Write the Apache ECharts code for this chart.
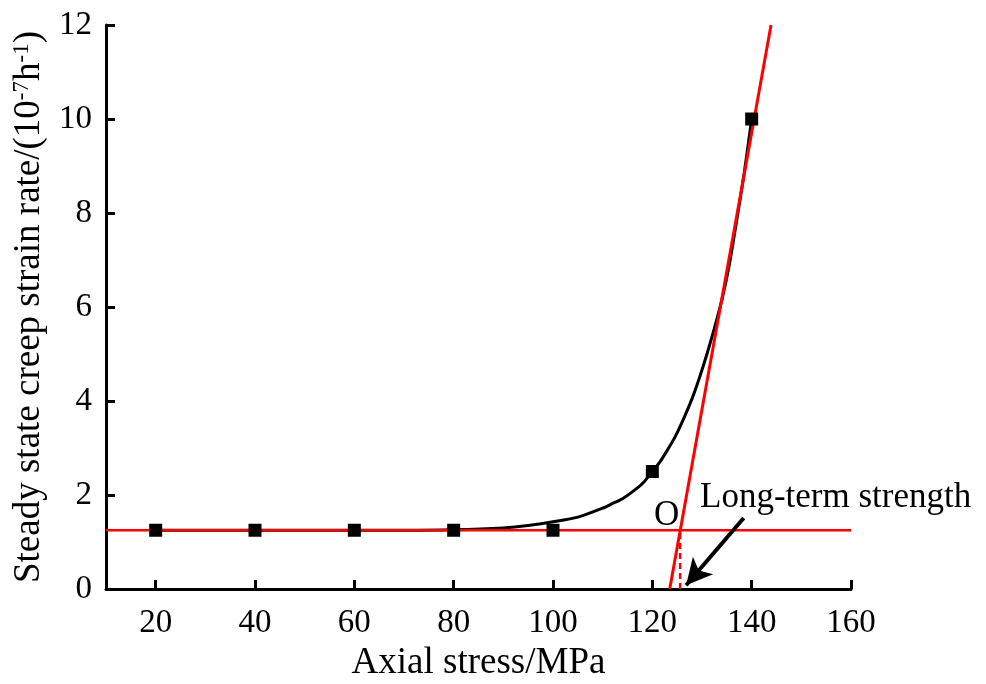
<!DOCTYPE html>
<html>
<head>
<meta charset="utf-8">
<script src="https://cdn.jsdelivr.net/npm/echarts@6/dist/echarts.min.js"></script>
<style>
  html, body { margin: 0; padding: 0; background: #fff; }
  #chart { width: 986px; height: 684px; }
</style>
</head>
<body>
<div id="chart"></div>
<script>
// measured points
const stress = [20, 40, 60, 80, 100, 120, 140];
const strainRate = [1.25, 1.25, 1.25, 1.25, 1.25, 2.5, 10];

// fitted curve
const fitX = [20, 40, 60, 70, 80, 90, 95, 100, 105, 110, 112, 114, 117, 118.5, 120, 121.5, 123, 124.5, 126, 128, 129.5, 131, 132.5, 134, 135.5, 137, 138.5, 140];
const fitY = [1.25, 1.25, 1.25, 1.25, 1.26, 1.3, 1.35, 1.43, 1.53, 1.72, 1.82, 1.92, 2.15, 2.3, 2.5, 2.7, 2.95, 3.22, 3.55, 4.05, 4.5, 5.0, 5.55, 6.15, 6.9, 7.85, 8.85, 10];

// red guide lines
const flatX = [10, 160];
const flatY = [1.25, 1.25];
const steepX = [123.5, 143.9];
const steepY = [0, 12];
const strengthX = 125.6;

const xTicks = [20, 40, 60, 80, 100, 120, 140, 160];

const font = "Liberation Serif";
const chart = echarts.init(document.getElementById("chart"));

chart.setOption({
  animation: false,
  grid: { left: 106, right: 135, top: 25, bottom: 95, outerBoundsMode: "none", containLabel: false },
  xAxis: {
    type: "value",
    min: 10,
    max: 160,
    name: "Axial stress/MPa",
    nameLocation: "middle",
    nameGap: 38,
    nameTextStyle: { fontFamily: font, fontSize: 37, color: "#000" },
    axisLine: { lineStyle: { color: "#000", width: 3 } },
    axisTick: { inside: true, length: 9, lineStyle: { color: "#000", width: 3 }, customValues: xTicks },
    axisLabel: { fontFamily: font, fontSize: 33, color: "#000", margin: 18, customValues: xTicks },
    splitLine: { show: false },
  },
  yAxis: {
    type: "value",
    min: 0,
    max: 12,
    interval: 2,
    name: "{n|Steady state creep strain rate/(10}{s|-7}{n|h}{s|-1}{n|)}",
    nameLocation: "middle",
    nameGap: 50,
    nameRotate: 90,
    nameTextStyle: {
      rich: {
        n: { fontFamily: font, fontSize: 37, color: "#000" },
        s: { fontFamily: font, fontSize: 23, color: "#000", verticalAlign: "top", padding: [0, 0, 16, 0] },
      },
    },
    axisLine: { show: true, lineStyle: { color: "#000", width: 3 } },
    axisTick: { show: true, inside: true, length: 9, lineStyle: { color: "#000", width: 3 } },
    axisLabel: { fontFamily: font, fontSize: 33, color: "#000", margin: 14 },
    splitLine: { show: false },
  },
  series: [
    {
      type: "line",
      data: fitX.map((x, i) => [x, fitY[i]]),
      smooth: 0.25,
      symbol: "none",
      lineStyle: { color: "#000", width: 3 },
      z: 2,
    },
    {
      type: "line",
      data: flatX.map((x, i) => [x, flatY[i]]),
      symbol: "none",
      lineStyle: { color: "#ff0000", width: 2.5 },
      z: 3,
    },
    {
      type: "line",
      data: steepX.map((x, i) => [x, steepY[i]]),
      symbol: "none",
      lineStyle: { color: "#ff0000", width: 3 },
      z: 3,
    },
    {
      type: "line",
      data: [[strengthX, 0], [strengthX, flatY[0]]],
      symbol: "none",
      lineStyle: { color: "#ff0000", width: 2.5, type: [6, 4] },
      z: 3,
      markLine: {
        silent: true,
        symbol: ["none", "arrow"],
        symbolSize: [20, 26],
        label: { show: false },
        lineStyle: { color: "#000", width: 4, type: "solid" },
        data: [[{ coord: [138.4, 1.51] }, { coord: [126.8, 0.08] }]],
      },
    },
    {
      type: "scatter",
      data: stress.map((x, i) => [x, strainRate[i]]),
      symbol: "rect",
      symbolSize: 13,
      itemStyle: { color: "#000", opacity: 1 },
      z: 4,
    },
    {
      type: "scatter",
      symbolSize: 0,
      silent: true,
      itemStyle: { opacity: 1 },
      data: [
        { value: [122.9, 1.55], label: { formatter: "O", align: "center" } },
        { value: [129.6, 1.93], label: { formatter: "Long-term strength", align: "left" } },
      ],
      label: {
        show: true,
        position: "inside",
        fontFamily: font,
        fontSize: 35,
        color: "#000",
      },
      z: 5,
    },
  ],
});
</script>
</body>
</html>
